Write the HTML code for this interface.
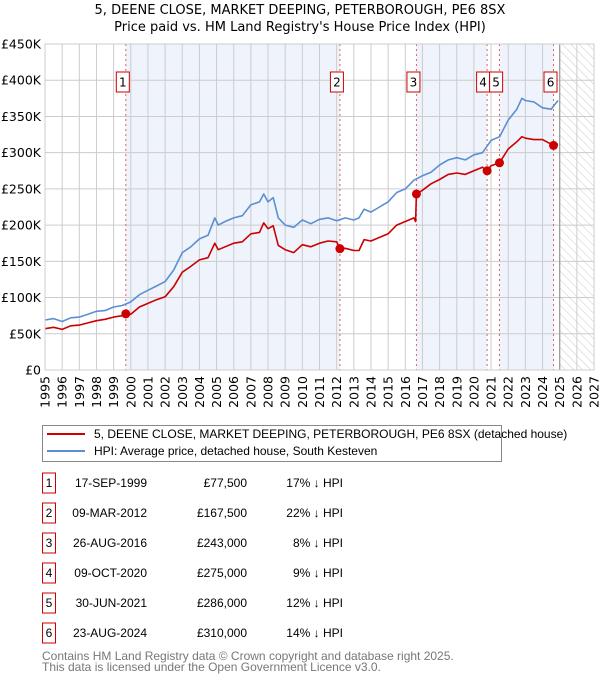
<!DOCTYPE html>
<html><head><meta charset="utf-8"><style>
body{margin:0;background:#fff}
svg{display:block;font-family:"DejaVu Sans","Liberation Sans",sans-serif}
.ls{font-family:"Liberation Sans",sans-serif}
</style></head><body>
<svg id="c" width="600" height="680" viewBox="0 0 600 680">
<defs><pattern id="hatch" width="6" height="6" patternUnits="userSpaceOnUse" patternTransform="rotate(-45)"><line x1="0" y1="0" x2="0" y2="6" stroke="#ccc" stroke-width="1"/></pattern></defs>
<text x="300" y="14" text-anchor="middle" font-size="13">5, DEENE CLOSE, MARKET DEEPING, PETERBOROUGH, PE6 8SX</text>
<text x="300" y="31" text-anchor="middle" font-size="13">Price paid vs. HM Land Registry's House Price Index (HPI)</text>
<g id="plot"></g>
<g class="ls">
<rect x="42.5" y="425.5" width="459" height="36" fill="#fff" stroke="#888"/>
<line x1="47" y1="434" x2="85" y2="434" stroke="#cc0000" stroke-width="2"/>
<text x="94" y="438" font-size="12">5, DEENE CLOSE, MARKET DEEPING, PETERBOROUGH, PE6 8SX (detached house)</text>
<line x1="47" y1="451" x2="85" y2="451" stroke="#5b8fd4" stroke-width="2"/>
<text x="94" y="455" font-size="12">HPI: Average price, detached house, South Kesteven</text>
</g>
<g id="table" font-size="12" class="ls"></g>
<text x="42" y="660" font-size="12" fill="#777" class="ls">Contains HM Land Registry data © Crown copyright and database right 2025.</text>
<text x="42" y="671" font-size="12" fill="#777" class="ls">This data is licensed under the Open Government Licence v3.0.</text>
</svg>
<script>
const hpiYears=[1995,1995.5,1996,1996.5,1997,1997.5,1998,1998.5,1999,1999.5,2000,2000.5,2001,2001.5,2002,2002.5,2003,2003.5,2004,2004.5,2004.9,2005.1,2005.5,2006,2006.5,2007,2007.5,2007.75,2008,2008.3,2008.6,2009,2009.5,2010,2010.5,2011,2011.5,2012,2012.5,2013,2013.3,2013.6,2014,2014.5,2015,2015.5,2016,2016.5,2017,2017.5,2018,2018.5,2019,2019.5,2020,2020.5,2021,2021.5,2022,2022.5,2022.8,2023,2023.5,2024,2024.5,2024.9];
const hpiValues=[69,71,67,72,73,77,81,82,87,89,94,104,110,116,122,138,162,170,181,186,210,200,205,210,213,228,232,243,232,238,210,200,197,207,202,208,210,206,210,207,210,222,218,225,232,245,250,262,268,273,283,290,293,290,297,300,317,322,345,360,375,372,370,362,360,372];
const ppYears=[1995,1995.5,1996,1996.5,1997,1997.5,1998,1998.5,1999,1999.5,1999.71,2000,2000.5,2001,2001.5,2002,2002.5,2003,2003.5,2004,2004.5,2004.9,2005.1,2005.5,2006,2006.5,2007,2007.5,2007.75,2008,2008.3,2008.6,2009,2009.5,2010,2010.5,2011,2011.5,2012,2012.1,2012.19,2012.5,2013,2013.3,2013.6,2014,2014.5,2015,2015.5,2016,2016.5,2016.6,2016.65,2017,2017.5,2018,2018.5,2019,2019.5,2020,2020.5,2020.77,2021,2021.49,2022,2022.5,2022.8,2023,2023.5,2024,2024.64,2024.9];
const ppValues=[57,59,56,61,62,65,68,70,73,75,77.5,77,87,92,97,101,115,135,143,152,155,175,166,170,175,177,188,190,203,195,199,172,166,162,173,170,175,178,177,172,167.5,168,165,165,180,178,183,188,200,205,210,205,243,248,257,263,270,272,270,275,280,275,282,286,305,315,322,320,318,318,310,312];
const saleYears=[1999.71,2012.19,2016.65,2020.77,2021.49,2024.64];
const salePrices=[77.5,167.5,243,275,286,310];
const saleDates=["17-SEP-1999","09-MAR-2012","26-AUG-2016","09-OCT-2020","30-JUN-2021","23-AUG-2024"];
const salePriceLabels=["£77,500","£167,500","£243,000","£275,000","£286,000","£310,000"];
const saleHpiLabels=["17% ↓ HPI","22% ↓ HPI","8% ↓ HPI","9% ↓ HPI","12% ↓ HPI","14% ↓ HPI"];
const yTicks=[0,50,100,150,200,250,300,350,400,450];
const yTickLabels=["£0","£50K","£100K","£150K","£200K","£250K","£300K","£350K","£400K","£450K"];
const xTicks=[1995,1996,1997,1998,1999,2000,2001,2002,2003,2004,2005,2006,2007,2008,2009,2010,2011,2012,2013,2014,2015,2016,2017,2018,2019,2020,2021,2022,2023,2024,2025,2026,2027];

const L=45,R=594,T=44,B=370,X0=1995,X1=2027,YMAX=450;
const xs=y=>L+(y-X0)/(X1-X0)*(R-L);
const ys=v=>B-v/YMAX*(B-T);
const NS="http://www.w3.org/2000/svg";
const plot=document.getElementById('plot');
function mk(tag,attrs,parent){const e=document.createElementNS(NS,tag);for(const k in attrs)e.setAttribute(k,attrs[k]);(parent||plot).appendChild(e);return e;}

const bands=[[saleYears[0],saleYears[1]],[saleYears[2],saleYears[3]],[saleYears[4],saleYears[5]]];
bands.forEach(b=>{const r=mk('rect',{x:xs(b[0]),y:T,width:xs(b[1])-xs(b[0]),height:B-T,fill:'#eef3fc'});

});
const hz=mk('rect',{x:xs(2025),y:T,width:R-xs(2025),height:B-T,fill:'url(#hatch)'});


xTicks.forEach((t,i)=>{const g=mk('line',{x1:xs(t),x2:xs(t),y1:T,y2:B,stroke:'#ccc','stroke-width':1});


const tx=mk('text',{x:0,y:0,'font-size':12.5,'text-anchor':'end',transform:`translate(${xs(t)+4.5},${B+6}) rotate(-90)`});
tx.textContent=t;

});
yTicks.forEach((t,i)=>{const g=mk('line',{x1:L,x2:R,y1:ys(t),y2:ys(t),stroke:'#ccc','stroke-width':1});


const tx=mk('text',{x:L-4,y:ys(t)+4.5,'font-size':12.5,'text-anchor':'end'});
tx.textContent=yTickLabels[i];

});
const now=mk('line',{x1:xs(2025),x2:xs(2025),y1:T,y2:B,stroke:'#999','stroke-width':1.2});


saleYears.forEach((s,i)=>{const l=mk('line',{x1:xs(s),x2:xs(s),y1:T,y2:B,stroke:'#e06060','stroke-width':1,'stroke-dasharray':'2,3'});

});
function path(xa,va,color,name){const d=xa.map((x,i)=>(i?'L':'M')+xs(x).toFixed(1)+','+ys(va[i]).toFixed(1)).join('');
const p=mk('path',{d:d,fill:'none',stroke:color,'stroke-width':1.6,'stroke-linejoin':'round'});

}
path(hpiYears,hpiValues,'#5b8fd4','hpi-line');
path(ppYears,ppValues,'#cc0000','price-paid-line');
saleYears.forEach((s,i)=>{const c=mk('circle',{cx:xs(s),cy:ys(salePrices[i]),r:4.5,fill:'#cc0000'});

});
let prevEnd=-1;
saleYears.forEach((s,i)=>{let bx=xs(s)-9.5;
if(i==3)bx=xs(s)-10.5;
if(i==4)bx=prevEnd;
prevEnd=bx+13;
const r=mk('rect',{x:bx,y:72,width:13,height:20,fill:'#fff',stroke:'#cc0000','stroke-width':1});


const t=mk('text',{x:bx+6.5,y:86.5,'font-size':12,'text-anchor':'middle'});
t.textContent=i+1;

});
mk('rect',{x:L,y:T,width:R-L,height:B-T,fill:'none',stroke:'#ccc'});
const tb=document.getElementById('table');
saleDates.forEach((d,i)=>{const cy=483+i*30;
const r=mk('rect',{x:42.5,y:cy-10,width:13,height:20,fill:'#fff',stroke:'#cc0000'},tb);


const n=mk('text',{x:49,y:cy+4,'text-anchor':'middle'},tb);n.textContent=i+1;


const a=mk('text',{x:147,y:cy+4,'text-anchor':'end'},tb);a.textContent=d;


const b=mk('text',{x:247,y:cy+4,'text-anchor':'end'},tb);b.textContent=salePriceLabels[i];


const c=mk('text',{x:343,y:cy+4,'text-anchor':'end'},tb);c.textContent=saleHpiLabels[i];

});
</script>
</body></html>
